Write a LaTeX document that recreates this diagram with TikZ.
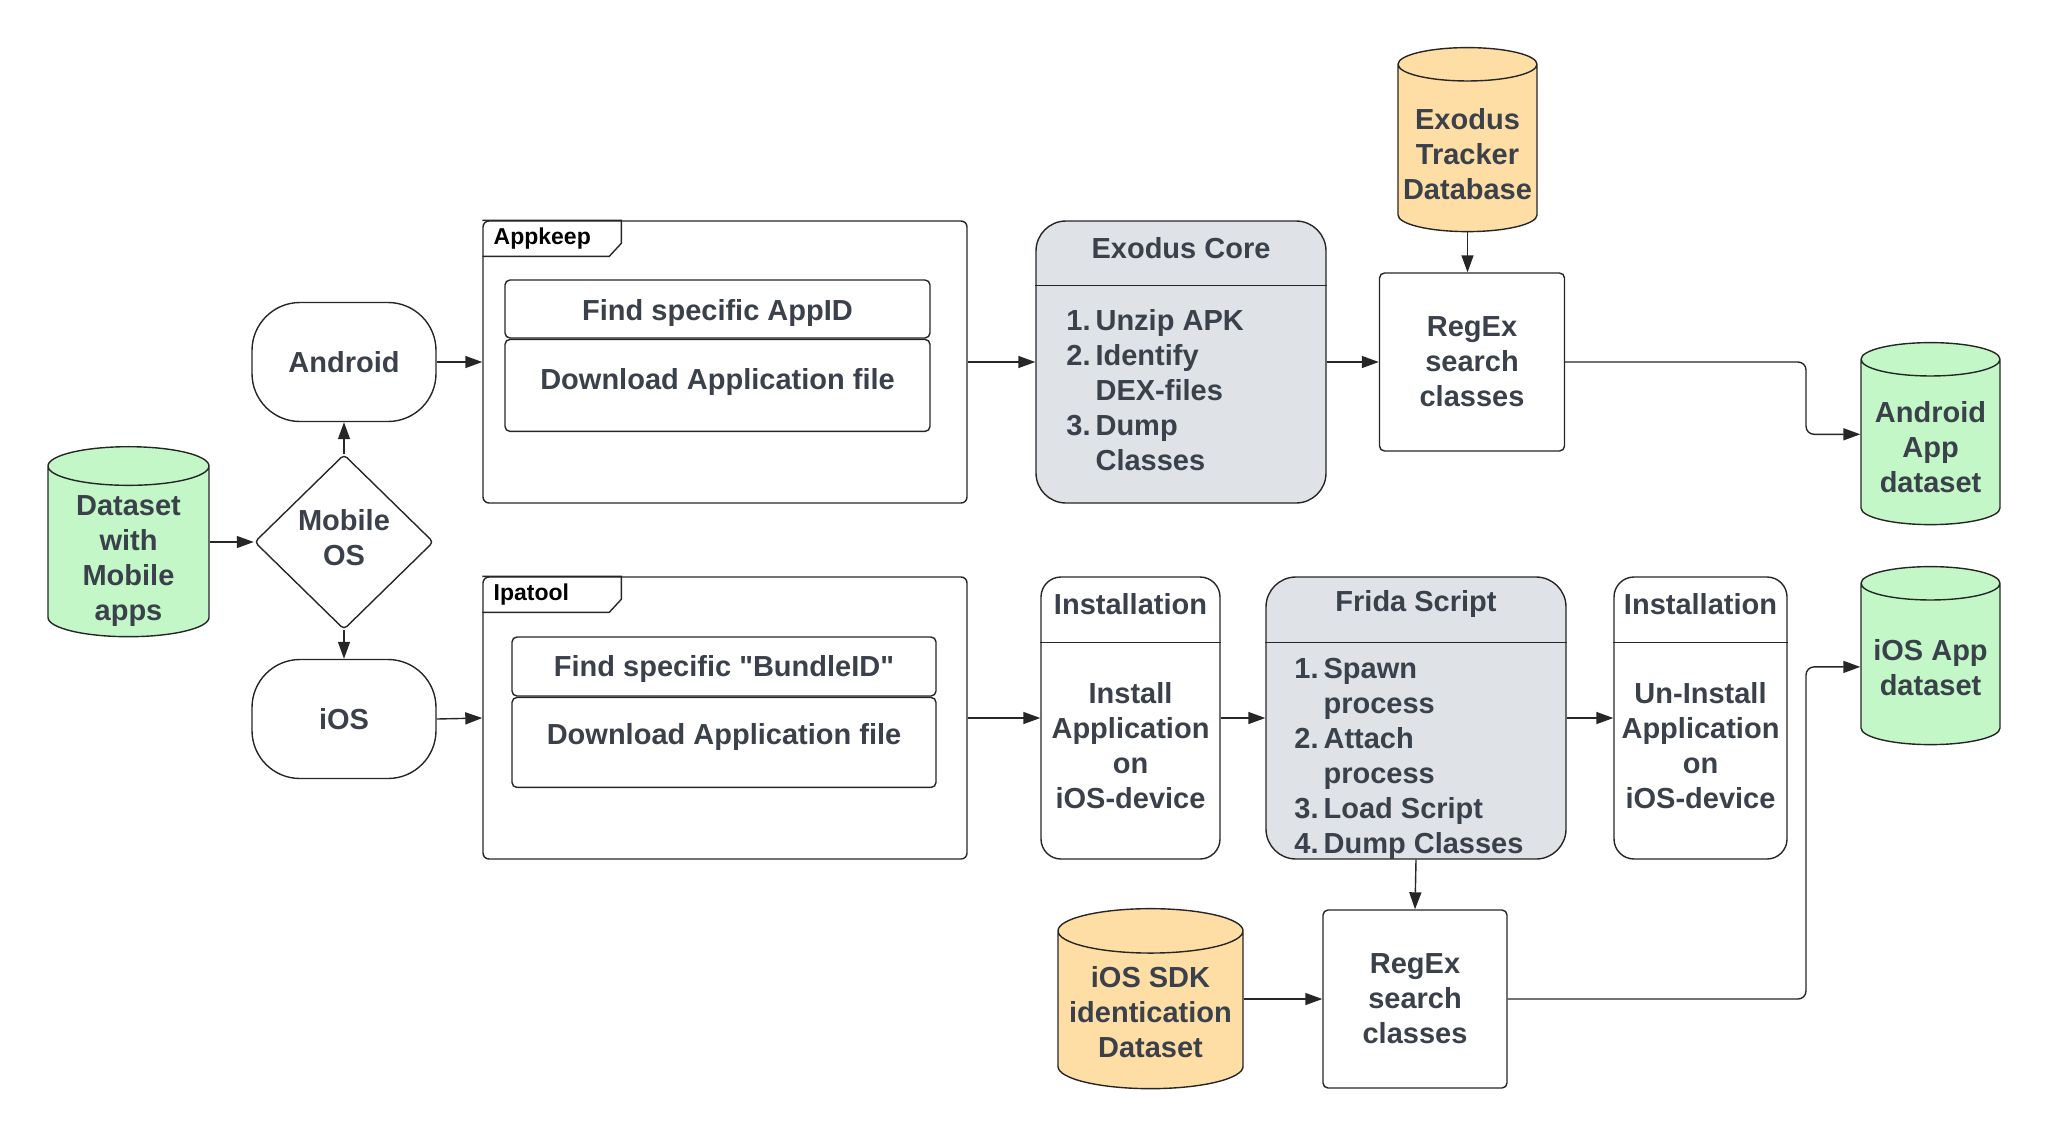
\documentclass[tikz,border=0pt]{standalone}
\usepackage{fontspec}
\setmainfont{Liberation Sans}[Ligatures=TeXOff]
\usetikzlibrary{positioning,shapes.geometric,arrows.meta}
\definecolor{txtgray}{HTML}{3A414A}
\definecolor{dsgreen}{HTML}{C3F7C8}
\definecolor{dborange}{HTML}{FFDEA6}
\definecolor{procgray}{HTML}{DFE3E8}
\tikzset{lbl/.style={font=\bfseries\fontsize{14.5}{17.5}\selectfont,text=txtgray,align=center,inner sep=0pt},
	 ln/.style={line width=0.7pt,draw=black!85},
	 box/.style={lbl,ln,rectangle,rounded corners=2.5pt},
	 term/.style={lbl,ln,rectangle,rounded corners=24pt,minimum width=92pt,minimum height=59.5pt},
	 db/.style={ln,cylinder,shape border rotate=90,aspect=0.24,inner sep=0pt,fill=#1},
	 pkgframe/.style={ln,rectangle,rounded corners=3pt,minimum width=242pt,minimum height=141pt},
	 tabname/.style={font=\bfseries\fontsize{11.5}{13}\selectfont,text=black,inner sep=0pt},
	 proc/.style={ln,rectangle,rounded corners=15pt,fill=procgray,minimum height=141pt},
	 inst/.style={ln,rectangle,rounded corners=10pt,minimum height=141pt},
	 arr/.style={ln,-{Triangle[length=8.5pt,width=6pt]}}
	 }

\begin{document}
\begin{tikzpicture}[x=0.5pt,y=-0.5pt]
        \useasboundingbox (0,0) rectangle (2048,1140);
        % start
        \node[db=dsgreen,minimum width=80.5pt,minimum height=95pt] (ds) at (128.5,551.7) {\rule{80.5pt}{0pt}};
        \node[lbl] (dstext) at ([yshift=-4.6pt]ds.center) {Dataset\\with\\Mobile\\apps};
        \node[lbl,ln,diamond,rounded corners=2pt,minimum width=89.5pt,minimum height=87.5pt,text depth=5pt] (mos) at (344,542) {Mobile\\OS};
        \node[term] (andr) at (344,362) {Android};
        \node[term] (ios) at (344,719) {iOS};
        % Android
        \node[pkgframe] (appkeep) at (725,362) {};
        \draw[ln] (appkeep.north west) -- ++(139,0) -- ++(0,23) -- ++(-12,13) -- ++(-127,0);
        \node[tabname,anchor=west] (appkeepname) at ([xshift=5.5pt,yshift=-9pt]appkeep.north west) {Appkeep};
        \node[box,minimum width=212.5pt,minimum height=29pt,text height=14.5pt] (findA) at (717.5,309) {Find specific AppID};
        \node[box,minimum width=212.5pt,minimum height=46pt,text depth=6.5pt] (dlA) [below=0pt of findA] {Download Application file};
        \node[proc,minimum width=145pt] (exo) at (1181,362) {};
        \draw[ln] ([yshift=-32.5pt]exo.north west) -- ([yshift=-32.5pt]exo.north east);
        \node[lbl] (exoh) at ([yshift=-14pt]exo.north) {Exodus Core};
        \node[lbl,anchor=west] (exol) at (1066,393) {\begin{tabular}{@{}r@{\hspace{2.5pt}}l@{}}
            1.&Unzip APK\\ 2.&Identify\\ &DEX-files\\ 3.&Dump\\ &Classes\end{tabular}};
        \node[db=dborange,minimum width=69.5pt,minimum height=92pt] (trk) at (1467.5,148.3) {\rule{69.5pt}{0pt}};
        \node[lbl] (trktext) at ([yshift=-2.8pt]trk.center) {Exodus\\Tracker\\Database};
        \node[box,minimum width=92.5pt,minimum height=89pt] (regA) at (1472,362) {RegEx\\search\\classes};
        \node[db=dsgreen,minimum width=69.5pt,minimum height=91pt] (andds) at (1930.5,442.3) {\rule{69.5pt}{0pt}};
        \node[lbl] (anddstext) at ([yshift=-2.3pt]andds.center) {Android\\App\\dataset};
        % iOS
        \node[pkgframe] (ipatool) at (725,718) {};
        \draw[ln] (ipatool.north west) -- ++(139,0) -- ++(0,23) -- ++(-12,13) -- ++(-127,0);
        \node[tabname,anchor=west] (ipatoolname) at ([xshift=5.5pt,yshift=-9pt]ipatool.north west) {Ipatool};
        \node[box,minimum width=212pt,minimum height=29.5pt,text height=12.5pt] (findI) at (724,666.5) {Find specific "BundleID"};
        \node[box,minimum width=212pt,minimum height=45pt,text depth=8pt] (dlI) [below=0pt of findI] {Download Application file};
        \node[inst,minimum width=89.5pt] (inst1) at (1130.5,718) {};
        \draw[ln] ([yshift=-33pt]inst1.north west) -- ([yshift=-33pt]inst1.north east);
        \node[lbl] (inst1h) at ([yshift=-14pt]inst1.north) {Installation};
        \node[lbl] (inst1b) at (1130.5,746) {Install\\Application\\on\\iOS-device};
        \node[proc,minimum width=150pt] (frida) at (1416,718) {};
        \draw[ln] ([yshift=-33pt]frida.north west) -- ([yshift=-33pt]frida.north east);
        \node[lbl] (fridah) at ([yshift=-14pt]frida.north) {Frida Script};
        \node[lbl,anchor=west] (fridal) at (1294,759) {\begin{tabular}{@{}r@{\hspace{2.5pt}}l@{}}
            1.&Spawn\\ &process\\ 2.&Attach\\ &process\\ 3.&Load Script\\ 4.&Dump Classes\end{tabular}};
        \node[inst,minimum width=86.5pt] (inst2) at (1700.5,718) {};
        \draw[ln] ([yshift=-33pt]inst2.north west) -- ([yshift=-33pt]inst2.north east);
        \node[lbl] (inst2h) at ([yshift=-14pt]inst2.north) {Installation};
        \node[lbl] (inst2b) at (1700.5,746) {Un-Install\\Application\\on\\iOS-device};
        \node[db=dborange,minimum width=92.5pt,minimum height=90pt] (sdk) at (1150.5,1010.1) {\rule{92.5pt}{0pt}};
        \node[lbl] (sdktext) at ([yshift=-1pt]sdk.center) {iOS SDK\\identication\\Dataset};
        \node[box,minimum width=92pt,minimum height=89pt] (regB) at (1415,999) {RegEx\\search\\classes};
        \node[db=dsgreen,minimum width=69.5pt,minimum height=89pt] (iosds) at (1930.5,664.3) {\rule{69.5pt}{0pt}};
        \node[lbl] (iosdstext) at ([yshift=-1.8pt]iosds.center) {iOS App\\dataset};
        % connectors
        \coordinate (jn) at (1806,0);
        \draw[arr] (ds.east |- mos.west) -- (mos.west);
        \draw[arr] (mos.north) -- (andr.south);
        \draw[arr] (mos.south) -- (ios.north);
        \draw[arr] (andr.east) -- (appkeep.west);
        \draw[arr] (appkeep.east) -- (exo.west);
        \draw[arr] (exo.east) -- (regA.west);
        \draw[arr] (trk.south) -- (trk.south |- regA.north);
        \draw[arr,rounded corners=4pt] (regA.east) -- (regA.east -| jn) |- ([yshift=4pt]andds.west);
        \draw[arr] (ios.east) -- (ipatool.west);
        \draw[arr] (ipatool.east) -- (inst1.west);
        \draw[arr] (inst1.east) -- (frida.west);
        \draw[arr] (frida.east) -- (inst2.west);
        \draw[arr] (frida.south) -- (regB.north);
        \draw[arr] (sdk.east |- regB.west) -- (regB.west);
        \draw[arr,rounded corners=4pt] (regB.east) -- (regB.east -| jn) |- ([yshift=-1.3pt]iosds.west);
\end{tikzpicture}
\end{document}
